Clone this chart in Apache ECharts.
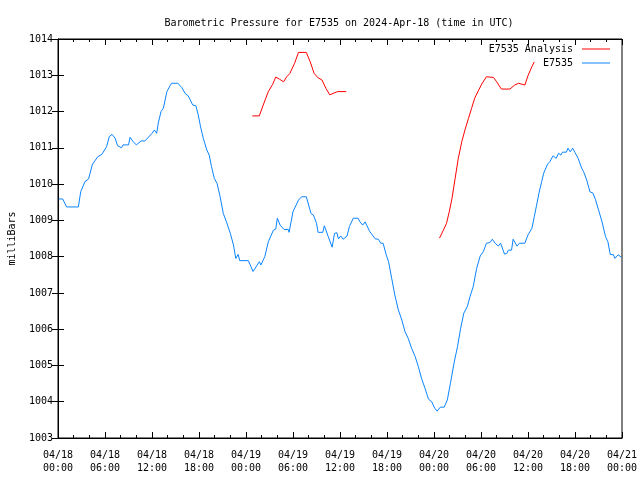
<!DOCTYPE html>
<html><head><meta charset="utf-8">
<script src="https://cdn.jsdelivr.net/npm/echarts@6/dist/echarts.min.js"></script>
<style>html,body{margin:0;padding:0;background:#fff}#c{width:640px;height:480px}</style>
</head><body><div id="c"></div>
<script>
// Hours since 2024-04-18 00:00 UTC
const tickLabels = ["04/18\n00:00","04/18\n06:00","04/18\n12:00","04/18\n18:00","04/19\n00:00","04/19\n06:00","04/19\n12:00","04/19\n18:00","04/20\n00:00","04/20\n06:00","04/20\n12:00","04/20\n18:00","04/21\n00:00"];

const obsHours = [0.1,0.6,1.1,2.6,2.9,3.45,3.9,4.4,5.1,5.6,6.2,6.55,6.9,7.3,7.6,8.1,8.3,9.0,9.2,9.6,10.0,10.6,11.1,12.0,12.3,12.6,12.8,13.15,13.45,13.9,14.3,14.5,15.3,15.8,16.3,16.6,17.2,17.6,17.9,18.2,18.55,19.0,19.3,19.6,19.95,20.3,20.7,21.1,21.5,22.0,22.4,22.7,23.0,23.2,24.3,24.9,25.7,25.9,26.4,26.85,27.5,27.8,28.0,28.35,28.85,29.4,29.5,30.0,30.7,31.1,31.7,32.3,32.6,33.0,33.2,33.8,34.0,34.5,35.0,35.3,35.6,35.8,36.1,36.4,36.9,37.2,37.7,38.3,38.55,38.9,39.2,39.8,40.5,40.9,41.2,41.5,41.9,42.2,42.6,43.0,43.45,43.9,44.3,44.7,45.15,45.6,46.0,46.4,46.85,47.3,47.7,48.1,48.4,48.8,49.3,49.7,50.1,50.55,51.0,51.4,51.8,52.25,52.6,53.0,53.45,53.9,54.3,54.7,55.15,55.45,55.8,56.2,56.5,57.0,57.3,57.5,57.9,58.1,58.6,58.9,59.6,60.0,60.5,60.8,61.1,61.4,61.75,62.0,62.5,62.8,63.2,63.6,63.9,64.2,64.4,64.9,65.1,65.4,65.7,66.0,66.4,66.85,67.1,67.5,67.9,68.3,68.6,69.0,69.45,69.9,70.2,70.5,70.9,71.1,71.5,71.95];
const obsPressure = [1009.59,1009.59,1009.37,1009.37,1009.79,1010.07,1010.14,1010.55,1010.76,1010.82,1011.03,1011.31,1011.37,1011.26,1011.06,1011.0,1011.08,1011.08,1011.29,1011.17,1011.08,1011.19,1011.19,1011.40,1011.49,1011.40,1011.68,1012.0,1012.09,1012.55,1012.71,1012.78,1012.78,1012.66,1012.48,1012.44,1012.18,1012.16,1011.91,1011.58,1011.26,1010.94,1010.80,1010.48,1010.16,1010.02,1009.65,1009.19,1008.96,1008.64,1008.32,1007.95,1008.06,1007.89,1007.89,1007.59,1007.86,1007.77,1008.0,1008.41,1008.73,1008.76,1009.06,1008.87,1008.75,1008.75,1008.67,1009.24,1009.56,1009.65,1009.65,1009.19,1009.15,1008.92,1008.67,1008.67,1008.85,1008.55,1008.26,1008.64,1008.66,1008.49,1008.57,1008.48,1008.57,1008.83,1009.06,1009.06,1008.96,1008.87,1008.96,1008.69,1008.49,1008.48,1008.37,1008.37,1008.05,1007.86,1007.40,1006.94,1006.53,1006.25,1005.93,1005.75,1005.47,1005.24,1004.97,1004.65,1004.37,1004.07,1004.0,1003.82,1003.74,1003.85,1003.85,1004.05,1004.51,1005.06,1005.52,1006.02,1006.44,1006.62,1006.90,1007.17,1007.68,1008.02,1008.14,1008.37,1008.39,1008.48,1008.37,1008.29,1008.37,1008.07,1008.09,1008.18,1008.18,1008.48,1008.29,1008.37,1008.37,1008.60,1008.78,1009.10,1009.42,1009.75,1010.07,1010.30,1010.55,1010.62,1010.78,1010.71,1010.85,1010.80,1010.88,1010.88,1010.99,1010.89,1010.99,1010.87,1010.71,1010.44,1010.34,1010.11,1009.79,1009.75,1009.58,1009.29,1008.96,1008.55,1008.41,1008.06,1008.05,1007.95,1008.05,1007.98];

const anaHours1 = [24.8,25.7,26.2,26.85,27.4,27.8,28.3,28.8,29.2,29.6,30.2,30.7,31.7,32.2,32.7,33.2,33.7,34.2,34.7,35.1,35.7,36.8];
const anaPressure1 = [1011.88,1011.88,1012.18,1012.55,1012.75,1012.95,1012.89,1012.82,1012.96,1013.05,1013.33,1013.63,1013.63,1013.37,1013.05,1012.93,1012.87,1012.64,1012.46,1012.50,1012.55,1012.55];
const anaHours2 = [48.7,49.2,49.6,49.95,50.3,50.7,51.1,51.55,51.95,52.4,52.8,53.2,53.7,54.1,54.7,55.6,56.0,56.6,57.7,58.3,58.8,59.6,60.0,60.5,60.8];
const anaPressure2 = [1008.51,1008.73,1008.92,1009.24,1009.61,1010.16,1010.71,1011.17,1011.49,1011.81,1012.09,1012.37,1012.59,1012.76,1012.96,1012.94,1012.82,1012.62,1012.62,1012.73,1012.78,1012.73,1012.99,1013.24,1013.37];

const zip = (a, b) => a.map((v, i) => [v, b[i]]);
const anaData = zip(anaHours1, anaPressure1).concat([[null, null]]).concat(zip(anaHours2, anaPressure2));
const obsData = zip(obsHours, obsPressure);

const FONT = "DejaVu Sans Mono";
const baseX = {
  type: 'value', min: 0, max: 72, interval: 6,
  axisLine: {show: true, lineStyle: {color: '#000', width: 1}},
  axisTick: {show: true, inside: true, length: 6, lineStyle: {color: '#000'}},
  minorTick: {show: true, splitNumber: 3, length: 3, lineStyle: {color: '#000'}},
  splitLine: {show: false}
};
const baseY = {
  type: 'value', min: 1003, max: 1014, interval: 1,
  axisLine: {show: true, lineStyle: {color: '#000', width: 1}},
  axisTick: {show: true, inside: true, length: 6, lineStyle: {color: '#000'}},
  splitLine: {show: false}
};

const chart = echarts.init(document.getElementById('c'), null, {renderer: 'canvas'});
chart.setOption({
  animation: false,
  backgroundColor: '#fff',
  textStyle: {fontFamily: FONT},
  title: {
    text: 'Barometric Pressure for E7535 on 2024-Apr-18 (time in UTC)',
    left: 334, top: 13, textAlign: 'center',
    textStyle: {fontFamily: FONT, fontSize: 10, fontWeight: 'normal', color: '#000'}
  },
  grid: {left: 58, right: 18, top: 39, bottom: 42, show: true, borderColor: '#000', borderWidth: 1,
         containLabel: false, outerBoundsMode: 'none'},
  legend: {
    orient: 'vertical', right: 25, top: 39, align: 'right',
    itemWidth: 28, itemHeight: 1, itemGap: 4,
    icon: 'rect',
    textStyle: {fontFamily: FONT, fontSize: 10, color: '#000', padding: [0, 4, 0, 0]},
    data: ['E7535 Analysis', 'E7535']
  },
  xAxis: [
    Object.assign({}, baseX, {
      position: 'bottom',
      axisLabel: {
        fontFamily: FONT, fontSize: 10, color: '#000', margin: 11, lineHeight: 13,
        formatter: v => tickLabels[Math.round(v / 6)]
      }
    }),
    Object.assign({}, baseX, {position: 'top', axisLabel: {show: false}})
  ],
  yAxis: [
    Object.assign({}, baseY, {
      position: 'left',
      name: 'milliBars', nameLocation: 'middle', nameRotate: 90, nameGap: 41,
      nameTextStyle: {fontFamily: FONT, fontSize: 10, color: '#000'},
      axisLabel: {fontFamily: FONT, fontSize: 10, color: '#000', margin: 5, formatter: v => String(v)}
    }),
    Object.assign({}, baseY, {position: 'right', axisLabel: {show: false}})
  ],
  series: [
    {
      name: 'E7535 Analysis', type: 'line', data: anaData, xAxisIndex: 0, yAxisIndex: 0,
      symbol: 'none', connectNulls: false,
      lineStyle: {color: '#ff0000', width: 1}, itemStyle: {color: '#ff0000'}
    },
    {
      name: 'E7535', type: 'line', data: obsData, xAxisIndex: 0, yAxisIndex: 0,
      symbol: 'none',
      lineStyle: {color: '#0a84ff', width: 1}, itemStyle: {color: '#0a84ff'}
    }
  ]
});
</script>
</body></html>
